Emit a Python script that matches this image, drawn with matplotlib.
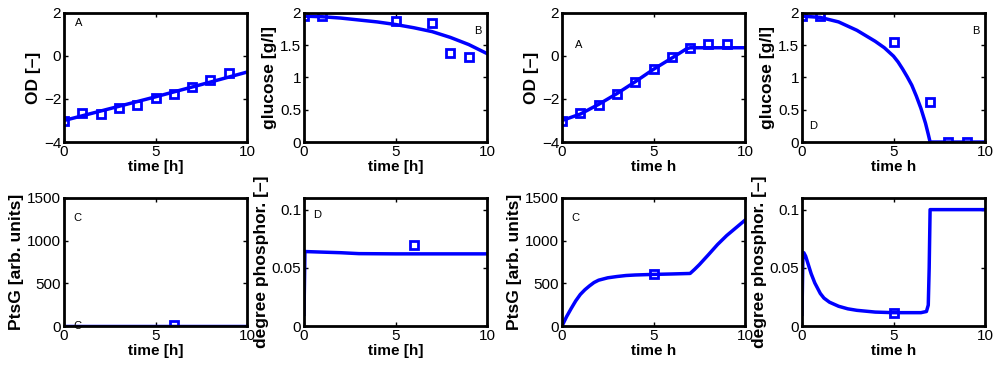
import numpy as np
import matplotlib
matplotlib.use("Agg")
import matplotlib.pyplot as plt

plt.rcParams['font.family'] = ['Liberation Sans', 'DejaVu Sans']

# --- data: left block (first fit) ---
od_t = [0, 1, 2, 3, 4, 5, 6, 7, 8, 9]
od1_meas = [-3.0, -2.65, -2.7, -2.4, -2.3, -1.97, -1.77, -1.45, -1.1, -0.8]
od1_line_t = [0, 2.5, 5, 7.5, 10]
od1_line = [-3.0, -2.45, -1.9, -1.33, -0.75]

glc_t = [0, 1, 5, 7, 8, 9]
glc1_meas = [1.95, 1.95, 1.88, 1.85, 1.38, 1.31]
glc1_line_t = [0, 1, 2, 3, 4, 5, 6, 7, 8, 9, 10]
glc1_line = [1.95, 1.94, 1.92, 1.89, 1.86, 1.82, 1.77, 1.71, 1.62, 1.51, 1.37]

pts1_meas_t = [6]
pts1_meas = [10]
pts1_line_t = [0, 10]
pts1_line = [0, 0]

ph1_meas_t = [6]
ph1_meas = [0.070]
ph1_line_t = [0, 0.05, 1, 2, 3, 5, 10]
ph1_line = [0.01, 0.064, 0.0635, 0.063, 0.0622, 0.062, 0.062]

# --- data: right block (second fit) ---
od2_meas = [-3.0, -2.65, -2.3, -1.75, -1.2, -0.6, -0.05, 0.38, 0.55, 0.55]
od2_line_t = [0, 1, 2, 3, 4, 5, 6, 6.8, 7, 10]
od2_line = [-3.0, -2.7, -2.25, -1.75, -1.2, -0.62, -0.1, 0.33, 0.38, 0.38]

glc2_meas = [1.95, 1.95, 1.55, 0.62, 0.0, 0.0]
glc2_line_t = [0, 1, 2, 3, 4, 4.5, 5, 5.25, 5.5, 5.75, 6, 6.25, 6.5, 6.75, 6.9, 7, 10]
glc2_line = [1.95, 1.93, 1.86, 1.73, 1.56, 1.46, 1.33, 1.24, 1.13, 1.01, 0.88, 0.71,
             0.52, 0.29, 0.12, 0.0, 0.0]

pts2_meas_t = [5]
pts2_meas = [605]
pts2_line_t = [0, 0.25, 0.5, 0.75, 1, 1.25, 1.5, 1.75, 2, 2.5, 3, 3.5, 4, 5, 6, 7,
               7.25, 7.5, 8, 8.5, 9, 9.5, 10]
pts2_line = [0, 110, 205, 295, 370, 425, 470, 510, 537, 565, 580, 592, 598, 605, 610, 616,
             665, 718, 835, 955, 1060, 1150, 1240]

ph2_meas_t = [5]
ph2_meas = [0.0115]
ph2_line_t = [0, 0.05, 0.1, 0.2, 0.3, 0.5, 0.7, 1, 1.2, 1.5, 2, 2.5, 3, 4, 5, 6.5,
              6.8, 6.9, 6.95, 7.0, 10]
ph2_line = [0.01, 0.062, 0.063, 0.06, 0.055, 0.045, 0.037, 0.028, 0.024, 0.0205, 0.017,
            0.0148, 0.0135, 0.012, 0.0115, 0.0115, 0.0125, 0.018, 0.05, 0.1, 0.1]

blue = (0, 0, 1)
lefts = [0.064, 0.304, 0.562, 0.802]
w = 0.183


def style(ax, ylim, yticks, ylabel, xlabel):
    ax.set_xlim(0, 10)
    ax.set_xticks([0, 5, 10])
    ax.set_ylim(*ylim)
    ax.set_yticks(yticks)
    ax.tick_params(direction='in', top=True, right=True, labelsize=11,
                   width=1, length=3, pad=2)
    for s in ax.spines.values():
        s.set_linewidth(2)
    ax.set_ylabel(ylabel, fontsize=12.5, fontweight='bold', labelpad=2)
    ax.set_xlabel(xlabel, fontsize=11, fontweight='bold', labelpad=1)


def draw(ax, lt, ly, mt, my):
    ax.plot(lt, ly, color=blue, lw=2.5)
    ax.plot(mt, my, ls='none', marker='s', ms=5.5, mfc='none', mec=blue, mew=2)


fig = plt.figure(figsize=(10, 3.68), dpi=100)

top = [fig.add_axes([l, 0.614, w, 0.351]) for l in lefts]
bot = [fig.add_axes([l, 0.114, w, 0.348]) for l in lefts]

od_ticks = [-4, -2, 0, 2]
glc_ticks = [0, 0.5, 1, 1.5, 2]
pts_ticks = [0, 500, 1000, 1500]
ph_ticks = [0, 0.05, 0.1]

# top row
ax = top[0]
draw(ax, od1_line_t, od1_line, od_t, od1_meas)
style(ax, (-4, 2), od_ticks, 'OD [–]', 'time [h]')
ax.text(0.6, 1.4, 'A', fontsize=8)

ax = top[1]
draw(ax, glc1_line_t, glc1_line, glc_t, glc1_meas)
style(ax, (0, 2), glc_ticks, 'glucose [g/l]', 'time [h]')
ax.set_yticklabels(['0', '0.5', '1', '1.5', '2'])
ax.text(9.3, 1.68, 'B', fontsize=8)

ax = top[2]
draw(ax, od2_line_t, od2_line, od_t, od2_meas)
style(ax, (-4, 2), od_ticks, 'OD [–]', 'time h')
ax.text(0.7, 0.35, 'A', fontsize=8)

ax = top[3]
draw(ax, glc2_line_t, glc2_line, glc_t, glc2_meas)
style(ax, (0, 2), glc_ticks, 'glucose [g/l]', 'time h')
ax.set_yticklabels(['0', '0.5', '1', '1.5', '2'])
ax.text(9.3, 1.68, 'B', fontsize=8)
ax.text(0.4, 0.2, 'D', fontsize=8)

# bottom row
ax = bot[0]
draw(ax, pts1_line_t, pts1_line, pts1_meas_t, pts1_meas)
style(ax, (0, 1500), pts_ticks, 'PtsG [arb. units]', 'time [h]')
ax.text(0.5, 1230, 'C', fontsize=8)
ax.text(0.5, -30, 'C', fontsize=8)

ax = bot[1]
draw(ax, ph1_line_t, ph1_line, ph1_meas_t, ph1_meas)
style(ax, (0, 0.11), ph_ticks, 'degree phosphor. [–]', 'time [h]')
ax.set_yticklabels(['0', '0.05', '0.1'])
ax.text(0.5, 0.093, 'D', fontsize=8)

ax = bot[2]
draw(ax, pts2_line_t, pts2_line, pts2_meas_t, pts2_meas)
style(ax, (0, 1500), pts_ticks, 'PtsG [arb. units]', 'time h')
ax.text(0.5, 1230, 'C', fontsize=8)

ax = bot[3]
draw(ax, ph2_line_t, ph2_line, ph2_meas_t, ph2_meas)
style(ax, (0, 0.11), ph_ticks, 'degree phosphor. [–]', 'time h')
ax.set_yticklabels(['0', '0.05', '0.1'])

fig.savefig('out.png', dpi=100)
